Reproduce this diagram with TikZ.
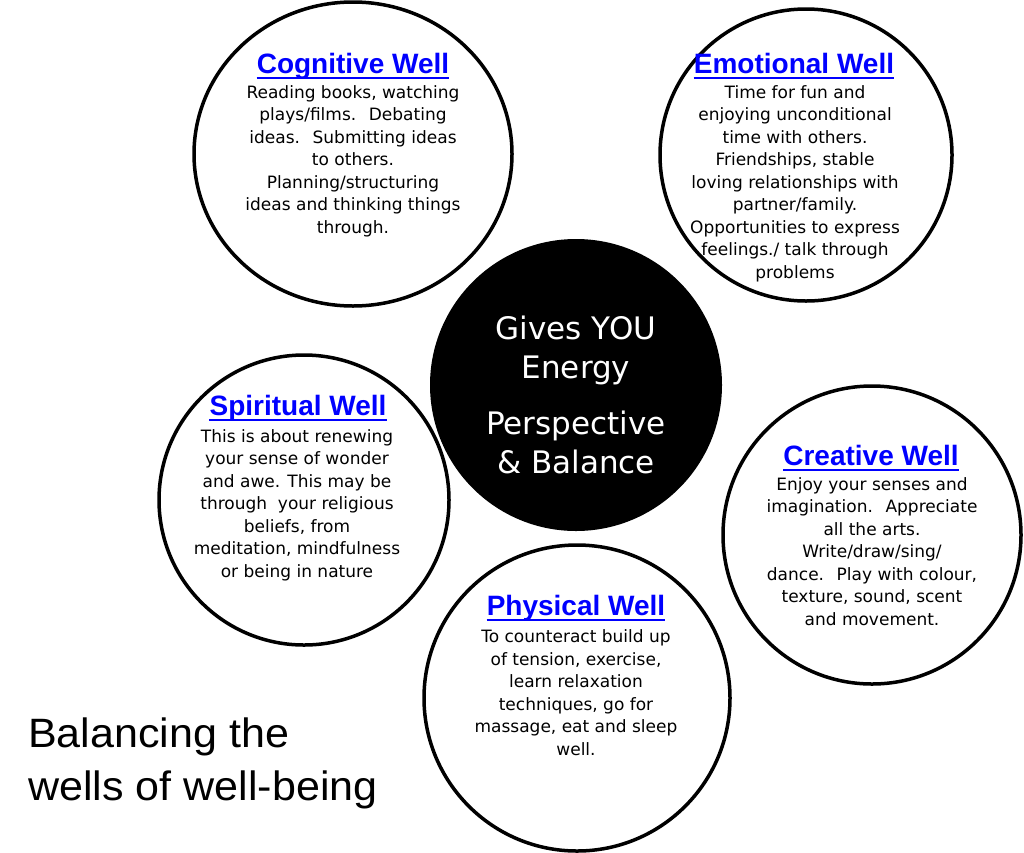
\documentclass[tikz,border=0pt]{standalone}
\usepackage{fontspec}
\setmainfont{DejaVu Sans}
\newfontfamily\titlefont{Liberation Sans}
\usetikzlibrary{shapes.geometric}

\definecolor{wellblue}{RGB}{0,0,255}
\tikzset{
	well/.style={ellipse, draw=black, line width=3.5pt, fill=white, inner sep=0pt},
	welltitle/.style={anchor=base, inner sep=0pt, text=wellblue,
		font=\titlefont\bfseries\fontsize{28}{30}\selectfont},
	welltext/.style={anchor=base, inner sep=0pt, align=center,
		font=\fontsize{17}{22.5}\selectfont},
	coretext/.style={anchor=base, inner sep=0pt, align=center, text=white,
		font=\fontsize{31}{39}\selectfont},
}

\begin{document}
\begin{tikzpicture}[x=1pt, y=-1pt]
			\useasboundingbox (0,0) rectangle (1024,852);
			% outer wells
			\node[well, minimum width=318pt, minimum height=304pt] (cog) at (353,154) {};
			\node[well, minimum size=292pt] (emo) at (806,155) {};
			\node[well, minimum size=290pt] (spi) at (304,500) {};
			\node[well, minimum size=298pt] (cre) at (872,535) {};
			\node[well, minimum size=306pt] (phy) at (577,698) {};
			% centre
			\node[circle, fill=black, inner sep=0pt, minimum size=292pt] (core) at (576,385) {};
			% titles
			\node[welltitle] (cogt) at (353,73) {Cognitive Well};
			\node[welltitle] (emot) at (794,73) {Emotional Well};
			\node[welltitle] (spit) at (298,415) {Spiritual Well};
			\node[welltitle] (cret) at (871,465) {Creative Well};
			\node[welltitle] (phyt) at (576,615) {Physical Well};
			\foreach \t in {cogt,emot,spit,cret,phyt}
				\draw[wellblue, line width=2pt] ([yshift=-5pt]\t.base west) -- ([yshift=-5pt]\t.base east);
			% texts (placed at the baseline of their last line)
			\node[welltext] (cogx) at (353,233) {Reading books, watching\\plays/films.~ Debating\\ideas.~ Submitting ideas\\to others.\\Planning/structuring\\ideas and thinking things\\through.};
			\node[welltext] (emox) at (795,278) {Time for fun and\\enjoying unconditional\\time with others.\\Friendships, stable\\loving relationships with\\partner/family.\\Opportunities to express\\feelings./ talk through\\problems};
			\node[welltext] (spix) at (297,577) {This is about renewing\\your sense of wonder\\and awe. This may be\\through~ your religious\\beliefs, from\\meditation, mindfulness\\or being in nature};
			\node[welltext] (crex) at (872,625) {Enjoy your senses and\\imagination.~ Appreciate\\all the arts.\\Write/draw/sing/\\dance.~ Play with colour,\\texture, sound, scent\\and movement.};
			\node[welltext] (phyx) at (576,755) {To counteract build up\\of tension, exercise,\\learn relaxation\\techniques, go for\\massage, eat and sleep\\well.};
			% centre labels
			\node[coretext] (energy) at (576,378) {Gives YOU\\Energy};
			\node[coretext] (balance) at (576,473) {Perspective\\\& Balance};
			% caption
			\node[anchor=base west, inner sep=0pt, align=left, xscale=1.05,
				font=\titlefont\fontsize{41}{53}\selectfont] (caption) at (28,800) {Balancing the\\wells of well-being};
		\end{tikzpicture}
\end{document}
